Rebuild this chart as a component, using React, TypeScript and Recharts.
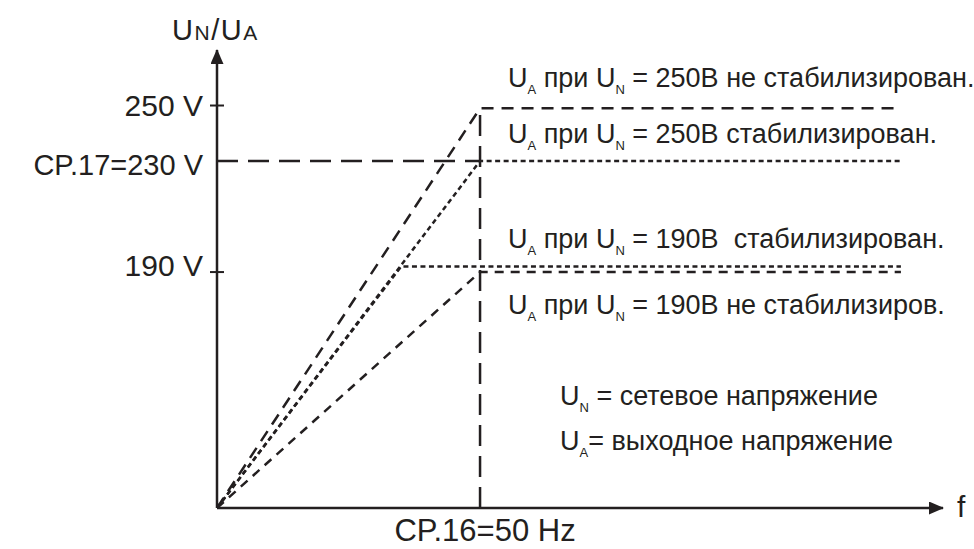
import React from 'react';
import { LineChart, Line, XAxis, YAxis } from 'recharts';

// ---- data (read from the schematic) ----
const freqTicks = [50];
const freqTickLabels = ['CP.16=50 Hz'];
const voltTicks = [250, 230, 190];
const voltTickLabels = ['250 V', 'CP.17=230 V', '190 V'];

// the drawn voltage scale is linear but its origin sits at about 105 V
const ORIGIN_V = 105;
const X_MAX = 138;
const Y_MAX = 270;

const unstab250 = [
  { f: 0, u: ORIGIN_V },
  { f: 50, u: 249 },
  { f: 130, u: 249 },
];
const stab250 = [
  { f: 0, u: ORIGIN_V },
  { f: 50, u: 230 },
  { f: 130, u: 230 },
];
const stab190 = [
  { f: 0, u: ORIGIN_V },
  { f: 35, u: 192 },
  { f: 130, u: 192 },
];
const unstab190 = [
  { f: 0, u: ORIGIN_V },
  { f: 50, u: 190 },
  { f: 130, u: 190 },
];
const setpointV = [
  { f: 0, u: 230 },
  { f: 50, u: 230 },
];
const setpointF = [
  { f: 50, u: ORIGIN_V },
  { f: 50, u: 249 },
];

const INK = '#231f20';
const FONT = '"Liberation Sans", Arial, Helvetica, sans-serif';

const yTickStyle: Record<number, { dy: number; cross: boolean; size: number }> = {
  250: { dy: 10, cross: true, size: 30 },
  230: { dy: 14, cross: false, size: 29 },
  190: { dy: 4, cross: true, size: 30 },
};

const YTick = (props: any) => {
  const { x, y, payload } = props;
  const i = voltTicks.indexOf(payload.value);
  const st = yTickStyle[payload.value] || { dy: 10, cross: false, size: 30 };
  return (
    <g>
      {st.cross && (
        <line x1={x - 7} x2={x + 7} y1={y} y2={y} stroke={INK} strokeWidth={2} />
      )}
      <text x={x - 14} y={y + st.dy} textAnchor="end" fontSize={st.size} fontFamily={FONT} fill={INK}>
        {voltTickLabels[i]}
      </text>
    </g>
  );
};

const XTick = (props: any) => {
  const { x, y, payload } = props;
  const i = freqTicks.indexOf(payload.value);
  return (
    <text x={x + 5} y={y + 33} textAnchor="middle" fontSize={31} fontFamily={FONT} fill={INK}>
      {freqTickLabels[i]}
    </text>
  );
};

const Note = ({ x, y, sub1, mid, sub2, rest }: any) => (
  <text x={x} y={y} fontSize={27} fontFamily={FONT} fill={INK} style={{ whiteSpace: 'pre' }}>
    <tspan>U</tspan>
    <tspan fontSize={13} dy={7}>{sub1}</tspan>
    <tspan dy={-7}>{mid}</tspan>
    {sub2 && <tspan fontSize={13} dy={7}>{sub2}</tspan>}
    {sub2 && <tspan dy={-7}>{rest}</tspan>}
  </text>
);

export default function App() {
  return (
    <div style={{ position: 'absolute', left: 0, top: 0, width: 974, height: 549, background: '#fff' }}>
      <svg width={974} height={549} style={{ position: 'absolute', left: 0, top: 0, pointerEvents: 'none' }}>
        <defs>
          <marker
            id="arrowHead"
            viewBox="0 0 15 13"
            refX={14}
            refY={6.5}
            markerWidth={15}
            markerHeight={13}
            markerUnits="userSpaceOnUse"
            orient="auto-start-reverse"
          >
            <path d="M0,0 L15,6.5 L0,13 z" fill={INK} />
          </marker>
        </defs>
      </svg>
      <div style={{ position: 'absolute', left: 0, top: 0 }}>
        <LineChart width={974} height={549} margin={{ top: 50, right: 31, bottom: 0, left: 17 }}>
          <XAxis
            type="number"
            dataKey="f"
            domain={[0, X_MAX]}
            ticks={freqTicks}
            interval={0}
            allowDataOverflow
            height={41}
            tickLine={false}
            tickSize={0}
            tickMargin={0}
            tick={<XTick />}
            axisLine={{ stroke: INK, strokeWidth: 2.5, markerEnd: 'url(#arrowHead)' }}
          />
          <YAxis
            type="number"
            dataKey="u"
            domain={[ORIGIN_V, Y_MAX]}
            ticks={voltTicks}
            interval={0}
            allowDataOverflow
            width={200}
            tickLine={false}
            tickSize={0}
            tickMargin={0}
            tick={<YTick />}
            axisLine={{ stroke: INK, strokeWidth: 2.5, markerStart: 'url(#arrowHead)' }}
          />
          <Line data={setpointV} dataKey="u" stroke={INK} strokeWidth={2.5} strokeDasharray="21 10" dot={false} isAnimationActive={false} />
          <Line data={setpointF} dataKey="u" stroke={INK} strokeWidth={2.5} strokeDasharray="21 10" dot={false} isAnimationActive={false} />
          <Line data={unstab250} dataKey="u" stroke={INK} strokeWidth={2.5} strokeDasharray="12 8" dot={false} isAnimationActive={false} />
          <Line data={stab250} dataKey="u" stroke={INK} strokeWidth={2.5} strokeDasharray="5 3.5" dot={false} isAnimationActive={false} />
          <Line data={stab190} dataKey="u" stroke={INK} strokeWidth={2.5} strokeDasharray="5 3.5" dot={false} isAnimationActive={false} />
          <Line data={unstab190} dataKey="u" stroke={INK} strokeWidth={2.5} strokeDasharray="9 7" dot={false} isAnimationActive={false} />
        </LineChart>
      </div>
      <svg width={974} height={549} style={{ position: 'absolute', left: 0, top: 0, pointerEvents: 'none' }}>
        <text x={172} y={40} fontSize={29} fontFamily={FONT} fill={INK} letterSpacing={1.5}>
          U<tspan fontSize={21}>N</tspan>/U<tspan fontSize={21}>A</tspan>
        </text>
        <text x={957} y={517} fontSize={30} fontFamily={FONT} fill={INK}>f</text>
        <Note x={508} y={87} sub1="A" mid=" при U" sub2="N" rest=" = 250В не стабилизирован." />
        <Note x={508} y={143} sub1="A" mid=" при U" sub2="N" rest=" = 250В стабилизирован." />
        <Note x={508} y={248} sub1="A" mid=" при U" sub2="N" rest=" = 190В  стабилизирован." />
        <Note x={508} y={314} sub1="A" mid=" при U" sub2="N" rest=" = 190В не стабилизиров." />
        <Note x={560} y={405} sub1="N" mid=" = сетевое напряжение" />
        <Note x={560} y={450} sub1="A" mid="= выходное напряжение" />
      </svg>
    </div>
  );
}
